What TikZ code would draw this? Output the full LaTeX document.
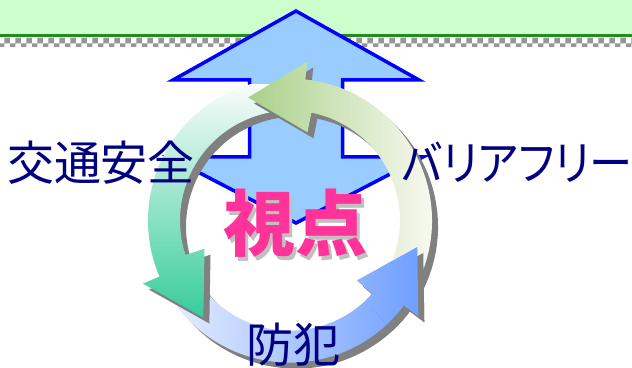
\documentclass[tikz,border=0pt]{standalone}
\usepackage{fontspec}
\usetikzlibrary{patterns}
\newfontfamily\jp{Noto Sans CJK JP}
\newfontfamily\jpprop[RawFeature=+palt]{Noto Sans CJK JP}

\definecolor{bandgreen}{RGB}{204,255,204}
\definecolor{rulegreen}{RGB}{34,139,34}
\definecolor{checkgray}{RGB}{150,150,150}
\definecolor{arrowfill}{RGB}{153,204,255}
\definecolor{arrowline}{RGB}{0,0,255}
\definecolor{shadowgray}{RGB}{128,128,128}
\definecolor{labelnavy}{RGB}{0,0,128}
\definecolor{titlepink}{RGB}{255,51,153}
\definecolor{titleshadow}{RGB}{192,192,192}
\definecolor{leafA}{RGB}{168,208,135}
\definecolor{leafB}{RGB}{250,250,244}
\definecolor{mintA}{RGB}{248,252,250}
\definecolor{mintB}{RGB}{51,204,153}
\definecolor{skyA}{RGB}{242,245,255}
\definecolor{skyB}{RGB}{102,153,255}

% one curved arrow of the cycle: #1 = tail angle, #2 = tip angle
\newcommand\cyclepath[2]{(#1:142) arc[start angle=#1,end angle=#2-25,radius=142]
  -- (#2-25:160) -- (#2:130) -- (#2-30:90) -- (#2-30:110)
  arc[start angle=#2-30,end angle=#1,radius=110] -- cycle}

\tikzset{
  label jp/.style={inner sep=0pt, text=labelnavy, font=\jp\fontsize{47}{47}\selectfont},
  title jp/.style={inner sep=0pt, font=\jp\bfseries\fontsize{72}{72}\selectfont},
  cast shadow/.style={fill=shadowgray, shift={(6,-6)}}
}

\begin{document}
\begin{tikzpicture}[x=1pt,y=1pt]
\useasboundingbox (0,0) rectangle (632,367);
\fill[white] (0,0) rectangle (632,367);

% header strip
\fill[bandgreen] (0,332) rectangle (632,367);
\fill[rulegreen] (0,330) rectangle (632,332.5);
\fill[white] (0,320) rectangle (632,330);
\fill[pattern=checkerboard, pattern color=checkgray] (0,320) rectangle (632,330);

% vertical double arrow
\draw[fill=arrowfill, draw=arrowline, line width=3.5pt, miter limit=10]
  (296,356) -- (419,287) -- (342.5,287) -- (342.5,210) -- (423,210)
  -- (296,144) -- (169,210) -- (249.5,210) -- (249.5,287) -- (173,287) -- cycle;

% cycle of three arrows around the centre
\begin{scope}[shift={(290,146.4)}]
  % blue arrow (bottom)
  \path[cast shadow] \cyclepath{208}{348.3};
  \begin{scope}
    \clip \cyclepath{208}{348.3};
    \shade[left color=skyA, right color=skyB] (-145,-170) rectangle (148,170);
  \end{scope}
  % teal arrow (left)
  \path[cast shadow] \cyclepath{88}{228.2};
  \begin{scope}
    \clip \cyclepath{88}{228.2};
    \shade[top color=mintA, bottom color=mintB] (-170,135.6) rectangle (170,-101.4);
  \end{scope}
  % green arrow (top)
  \path[cast shadow] \cyclepath{-32}{108.8};
  \begin{scope}
    \clip \cyclepath{-32}{108.8};
    \shade[left color=leafA, right color=leafB] (-45,-170) rectangle (148,170);
  \end{scope}
  % head of the blue arrow lies over the green tail
  \begin{scope}
    \clip (313:80) -- (313:178) -- (352:178) -- (352:80) -- cycle;
    \path[cast shadow] \cyclepath{208}{348.3};
    \clip \cyclepath{208}{348.3};
    \shade[left color=skyA, right color=skyB] (-145,-170) rectangle (148,170);
  \end{scope}
\end{scope}

% labels
\node[label jp] (safety) at (101,204) {交通安全};
\node[label jp, font=\jpprop\fontsize{47}{47}\selectfont, xscale=0.92] (barrierfree) at (517,205) {バリアフリー};
\node[label jp] (crime) at (293,22) {防犯};
\node[title jp, text=titleshadow] (titleshade) at (298.5,140) {視点};
\node[title jp, text=titlepink] (title) at (295,143.5) {視点};
\end{tikzpicture}
\end{document}
